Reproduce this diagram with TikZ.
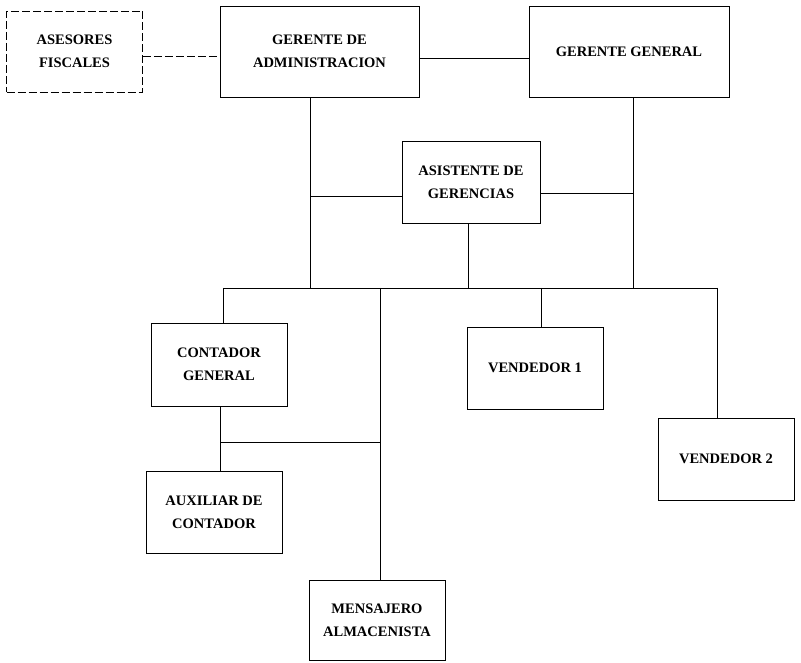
\documentclass[tikz,border=0pt]{standalone}
\usepackage{fontspec}
\setmainfont{Liberation Serif}
\usepackage{tikz}
\usetikzlibrary{shapes,arrows}
\usetikzlibrary{positioning}
\tikzstyle{puesto} = [rectangle, draw, line width=0.9pt, align=center,
    minimum width=136pt, minimum height=82pt, inner sep=2pt,
    font=\fontsize{14.5}{23}\selectfont\bfseries]
\tikzstyle{externo} = [puesto, dash pattern=on 8pt off 3pt]
\tikzstyle{edge} = [draw, line width=0.9pt, -]

\begin{document}
\begin{tikzpicture}[x=1pt, y=-1pt, node distance=2cm]
  \useasboundingbox[fill=white] (0,0) rectangle (801,663);
  % Place nodes
  \node [puesto, minimum width=199pt, minimum height=91pt] (gadm) at (319.5,51.5) {GERENTE DE\\ADMINISTRACION};
  \node [externo, minimum height=81pt, left of=gadm, node distance=245pt] (ases) {ASESORES\\FISCALES};
  \node [puesto, minimum width=200pt, minimum height=91pt, right of=gadm, node distance=309.5pt] (ggen) {GERENTE GENERAL};
  \node [puesto, minimum width=138pt] (asis) at (471,182) {ASISTENTE DE\\GERENCIAS};
  \node [puesto, minimum height=83pt] (cont) at (219,364.5) {CONTADOR\\GENERAL};
  \node [puesto] (ven1) at (535,368) {VENDEDOR 1};
  \node [puesto] (ven2) at (726,459) {VENDEDOR 2};
  \node [puesto] (aux) at (214,512) {AUXILIAR DE\\CONTADOR};
  \node [puesto, minimum height=80pt] (mens) at (377,620) {MENSAJERO\\ALMACENISTA};

  % Junctions
  \coordinate (busL) at (223,288);
  \coordinate (busR) at (717,288);
  \coordinate (jA) at (310,288);
  \coordinate (jG) at (633,288);
  \coordinate (jM) at (380,288);
  \coordinate (jV) at (541,288);
  \coordinate (jC) at (220,442);

  % Top row
  \path [edge, dash pattern=on 8pt off 3pt] ([yshift=-4.5pt]ases.east) -- ([yshift=-4.5pt]ases.east -| gadm.west);
  \path [edge] ([yshift=-6.5pt]gadm.east) -- ([yshift=-6.5pt]gadm.east -| ggen.west);
  \path [edge] (gadm.south -| jA) -- (jA);
  \path [edge] (ggen.south -| jG) -- (jG);

  % Assistant
  \path [edge] ([yshift=-14pt]asis.west) -- ([yshift=-14pt]asis.west -| jA);
  \path [edge] ([yshift=-11pt]asis.east) -- ([yshift=-11pt]asis.east -| jG);
  \path [edge] ([xshift=-3pt]asis.south) -- ([xshift=-3pt]asis.south |- busL);

  % Bus and staff
  \path [edge] (busL) -- (busR);
  \path [edge] (busL) -- (cont.north -| busL);
  \path [edge] (jV) -- (ven1.north -| jV);
  \path [edge] (busR) -- (ven2.north -| busR);
  \path [edge] (jM) -- (mens.north -| jM);

  % Accounting
  \path [edge] (cont.south -| jC) -- (aux.north -| jC);
  \path [edge] (jC) -- (jC -| jM);
\end{tikzpicture}
\end{document}
